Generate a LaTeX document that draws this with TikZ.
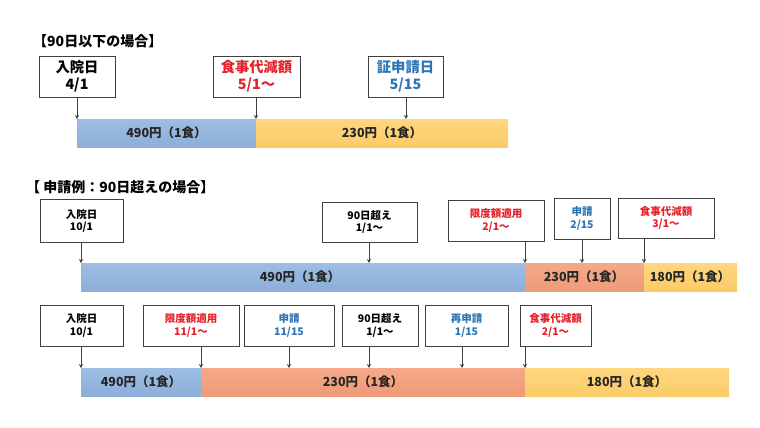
\documentclass[tikz,border=0pt]{standalone}
\usepackage{fontspec}
\setmainfont{Noto Sans CJK JP}
\usetikzlibrary{arrows.meta}
\definecolor{tred}{HTML}{E3222B}
\definecolor{tblue}{HTML}{2E75B6}
\definecolor{bblue}{HTML}{9DBDE3}
\definecolor{bblueD}{HTML}{8CAED9}
\definecolor{bsal}{HTML}{F5A98A}
\definecolor{bsalD}{HTML}{EE9A78}
\definecolor{byel}{HTML}{FFD780}
\definecolor{byelD}{HTML}{FBCB68}
\definecolor{bordc}{HTML}{404040}
\definecolor{txtc}{HTML}{262626}
\tikzset{
  evbox/.style={draw=bordc, line width=0.8pt, fill=white},
  bigtxt/.style={font=\fontsize{14.3}{17}\selectfont\bfseries, align=center, inner sep=0pt},
  smltxt/.style={font=\fontsize{10.5}{12.5}\selectfont\bfseries, align=center, inner sep=0pt},
  bartxt/.style={font=\fontsize{12.5}{14}\selectfont\bfseries, text=txtc, inner sep=0pt},
  ttl/.style={font=\fontsize{14}{16}\selectfont\bfseries, anchor=west, inner sep=0pt},
  blueseg/.style={top color=bblue, bottom color=bblueD, draw=none},
  salseg/.style={top color=bsal, bottom color=bsalD, draw=none},
  yelseg/.style={top color=byel, bottom color=byelD, draw=none},
  tick/.style={draw=bordc, line width=0.6pt, -{Stealth[length=4pt,width=4pt]}},
}
\begin{document}
\begin{tikzpicture}[x=1pt,y=-1pt]
\useasboundingbox (0,0) rectangle (760,428);
% ---------- section 1 ----------
\node[ttl] (t1) at (33,41) {【90日以下の場合】};
% bars
\path[blueseg] (77,119) rectangle (256,147);
\path[yelseg] (256,119) rectangle (508,147);
\node[bartxt] (p1a) at (166.5,133) {490円（1食）};
\node[bartxt] (p1b) at (382,133) {230円（1食）};
\coordinate (a1a) at (77,119);
\coordinate (a1b) at (256,119);
\coordinate (a1c) at (406,119);
% boxes
\draw[evbox] (39,56) rectangle (115,97);
\node[bigtxt] (b1a) at (77,76.5) {入院日\\4/1};
\draw[evbox] (213,56) rectangle (300,97);
\node[bigtxt, text=tred] (b1b) at (256.5,76.5) {食事代減額\\5/1〜};
\draw[evbox] (368,56) rectangle (443,97);
\node[bigtxt, text=tblue] (b1c) at (405.5,76.5) {証申請日\\5/15};
\coordinate (s1a) at (77,97);
\coordinate (s1b) at (256,97);
\coordinate (s1c) at (406,97);
\draw[tick] (s1a) -- (a1a);
\draw[tick] (s1b) -- (a1b);
\draw[tick] (s1c) -- (a1c);
% ---------- section 2 ----------
\node[ttl] (t2) at (26,187) {【 申請例：90日超えの場合】};
\path[blueseg] (81,263) rectangle (525,291);
\path[salseg] (525,263) rectangle (644,291);
\path[yelseg] (644,263) rectangle (737,291);
\node[bartxt] (p2a) at (300,277) {490円（1食）};
\node[bartxt] (p2b) at (584,277) {230円（1食）};
\node[bartxt] (p2c) at (690,277) {180円（1食）};
\draw[evbox] (40,199) rectangle (123,242);
\node[smltxt] (b2a) at (81.5,221) {入院日\\10/1};
\draw[evbox] (322,202) rectangle (417,242);
\node[smltxt] (b2b) at (369.5,222) {90日超え\\1/1〜};
\draw[evbox] (448,200) rectangle (544,241);
\node[smltxt, text=tred] (b2c) at (496,220.5) {限度額適用\\2/1〜};
\draw[evbox] (554,198) rectangle (610,239);
\node[smltxt, text=tblue] (b2d) at (582,218.5) {申請\\2/15};
\draw[evbox] (618,198) rectangle (714,238);
\node[smltxt, text=tred] (b2e) at (666,218) {食事代減額\\3/1〜};
\coordinate (s2a) at (81,242);  \coordinate (a2a) at (81,263);
\coordinate (s2b) at (369,242); \coordinate (a2b) at (369,263);
\coordinate (s2c) at (525,241); \coordinate (a2c) at (525,263);
\coordinate (s2d) at (582,239); \coordinate (a2d) at (582,263);
\coordinate (s2e) at (644,238); \coordinate (a2e) at (644,263);
\draw[tick] (s2a) -- (a2a);
\draw[tick] (s2b) -- (a2b);
\draw[tick] (s2c) -- (a2c);
\draw[tick] (s2d) -- (a2d);
\draw[tick] (s2e) -- (a2e);
% ---------- section 3 ----------
\path[blueseg] (81,368) rectangle (201,396);
\path[salseg] (201,368) rectangle (525,396);
\path[yelseg] (525,368) rectangle (729,396);
\node[bartxt] (p3a) at (141,382) {490円（1食）};
\node[bartxt] (p3b) at (363,382) {230円（1食）};
\node[bartxt] (p3c) at (627,382) {180円（1食）};
\draw[evbox] (40,305) rectangle (123,346);
\node[smltxt] (b3a) at (81.5,325.5) {入院日\\10/1};
\draw[evbox] (143,305) rectangle (239,346);
\node[smltxt, text=tred] (b3b) at (191,325.5) {限度額適用\\11/1〜};
\draw[evbox] (244,305) rectangle (334,346);
\node[smltxt, text=tblue] (b3c) at (289,325.5) {申請\\11/15};
\draw[evbox] (342,305) rectangle (418,346);
\node[smltxt] (b3d) at (380,325.5) {90日超え\\1/1〜};
\draw[evbox] (425,305) rectangle (508,346);
\node[smltxt, text=tblue] (b3e) at (466.5,325.5) {再申請\\1/15};
\draw[evbox] (520,305) rectangle (591,346);
\node[smltxt, text=tred] (b3f) at (555.5,325.5) {食事代減額\\2/1〜};
\coordinate (s3a) at (81,346);  \coordinate (a3a) at (81,368);
\coordinate (s3b) at (201,346); \coordinate (a3b) at (201,368);
\coordinate (s3c) at (289,346); \coordinate (a3c) at (289,368);
\coordinate (s3d) at (369,346); \coordinate (a3d) at (369,368);
\coordinate (s3e) at (462,346); \coordinate (a3e) at (462,368);
\coordinate (s3f) at (525,346); \coordinate (a3f) at (525,368);
\draw[tick] (s3a) -- (a3a);
\draw[tick] (s3b) -- (a3b);
\draw[tick] (s3c) -- (a3c);
\draw[tick] (s3d) -- (a3d);
\draw[tick] (s3e) -- (a3e);
\draw[tick] (s3f) -- (a3f);
\end{tikzpicture}
\end{document}
